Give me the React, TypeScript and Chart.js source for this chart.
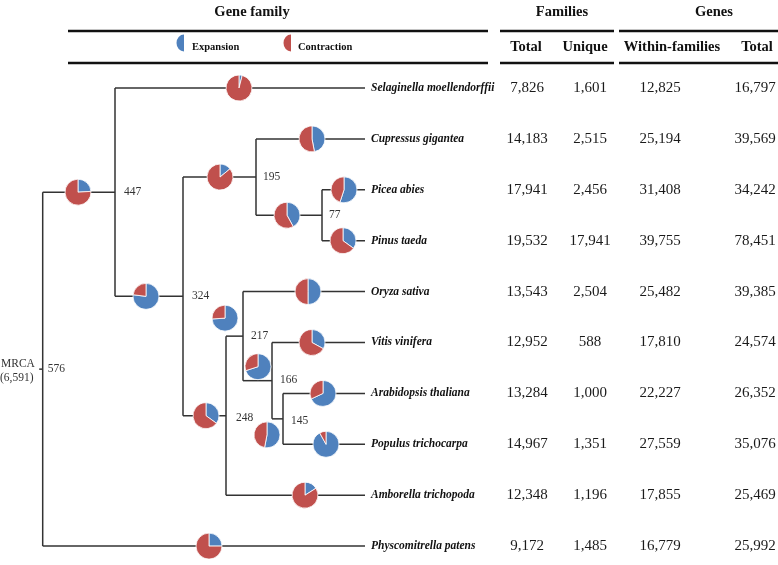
import React, { useEffect, useRef } from "react";
import { Chart, registerables } from "chart.js";

Chart.register(...registerables);

// ---------------- data ----------------
const species = [
  "Selaginella moellendorffii",
  "Cupressus gigantea",
  "Picea abies",
  "Pinus taeda",
  "Oryza sativa",
  "Vitis vinifera",
  "Arabidopsis thaliana",
  "Populus trichocarpa",
  "Amborella trichopoda",
  "Physcomitrella patens",
];
const familiesTotal = [7826, 14183, 17941, 19532, 13543, 12952, 13284, 14967, 12348, 9172];
const familiesUnique = [1601, 2515, 2456, 17941, 2504, 588, 1000, 1351, 1196, 1485];
const genesWithinFamilies = [12825, 25194, 31408, 39755, 25482, 17810, 22227, 27559, 17855, 16779];
const genesTotal = [16797, 39569, 34242, 78451, 39385, 24574, 26352, 35076, 25469, 25992];

// share of expansion (blue) in each leaf pie, rest = contraction (red)
const leafExpansionShare = [0.04, 0.47, 0.55, 0.35, 0.5, 0.33, 0.68, 0.92, 0.16, 0.25];
// internal node labels (families at node) and their expansion shares
const nodeLabels = ["576", "447", "324", "195", "77", "248", "217", "166", "145"];
const nodeExpansionShare = [null, 0.24, 0.77, 0.14, 0.42, 0.35, 0.74, 0.7, 0.53];

const headerTitles = ["Gene family", "Families", "Genes"];
const columnTitles = ["Total", "Unique", "Within-families", "Total"];
const legendLabels = ["Expansion", "Contraction"];
const rootLabel = ["MRCA", "(6,591)"];

// ---------------- layout / styles ----------------
const BLUE = "#4f81bd";
const RED = "#c0504d";
const LINE = "#333333";
const SERIF = '"Liberation Serif", "Times New Roman", serif';
const LEAF_X = 365;
const ROW0_PX = 88;
const ROW_PX = 50.9;
const H = 565;
const W = 778;

type Node = {
  node?: number; // index into nodeLabels
  leaf?: number; // index into species
  x?: number;
  pieX?: number;
  pieDy?: number;
  children?: Node[];
};

const tree: Node = {
  node: 0, x: 42.7, children: [
    {
      node: 1, x: 115, pieX: 78, children: [
        { leaf: 0, pieX: 239 },
        {
          node: 2, x: 183, pieX: 146, children: [
            {
              node: 3, x: 256, pieX: 220, children: [
                { leaf: 1, pieX: 312 },
                { node: 4, x: 322, pieX: 287, children: [{ leaf: 2, pieX: 344 }, { leaf: 3, pieX: 343 }] },
              ],
            },
            {
              node: 5, x: 226, pieX: 206, children: [
                {
                  node: 6, x: 243, pieX: 225, pieDy: -18, children: [
                    { leaf: 4, pieX: 308 },
                    {
                      node: 7, x: 272, pieX: 258, pieDy: -14, children: [
                        { leaf: 5, pieX: 312 },
                        { node: 8, x: 283, pieX: 267, pieDy: 16, children: [{ leaf: 6, pieX: 323 }, { leaf: 7, pieX: 326 }] },
                      ],
                    },
                  ],
                },
                { leaf: 8, pieX: 305 },
              ],
            },
          ],
        },
      ],
    },
    { leaf: 9, pieX: 209 },
  ],
};

type Placed = { n: Node; x: number; y: number };

function layout(n: Node, out: Placed[]): number {
  if (n.leaf !== undefined) {
    out.push({ n, x: LEAF_X, y: n.leaf });
    return n.leaf;
  }
  const ys = (n.children || []).map((c) => layout(c, out));
  const y = (ys[0] + ys[ys.length - 1]) / 2;
  out.push({ n, x: n.x as number, y });
  return y;
}

function buildChart(canvas: HTMLCanvasElement) {
  const placed: Placed[] = [];
  layout(tree, placed);
  const posOf = new Map<Node, Placed>();
  placed.forEach((p) => posOf.set(p.n, p));

  const lineDs: any[] = [];
  const seg = (pts: { x: number; y: number }[]) =>
    lineDs.push({
      type: "line",
      data: pts,
      showLine: true,
      borderColor: LINE,
      borderWidth: 1.5,
      pointRadius: 0,
      fill: false,
      parsing: false,
      clip: false,
    });

  placed.forEach((p) => {
    if (!p.n.children) return;
    const kids = p.n.children.map((c) => posOf.get(c) as Placed);
    seg([{ x: p.x, y: kids[0].y }, { x: p.x, y: kids[kids.length - 1].y }]);
    kids.forEach((k) => seg([{ x: p.x, y: k.y }, { x: k.x, y: k.y }]));
  });
  const root = posOf.get(tree) as Placed;
  seg([{ x: root.x - 3.5, y: root.y }, { x: root.x, y: root.y }]);

  // pies dataset
  const pieData: any[] = [];
  const pieShares: number[] = [];
  placed.forEach((p) => {
    let share: number | null = null;
    if (p.n.leaf !== undefined) share = leafExpansionShare[p.n.leaf];
    else if (p.n.node !== undefined) share = nodeExpansionShare[p.n.node];
    if (share === null || share === undefined || p.n.pieX === undefined) return;
    pieData.push({ x: p.n.pieX, y: p.y + (p.n.pieDy || 0) / ROW_PX });
    pieShares.push(share);
  });

  const pieDs = {
    type: "scatter",
    label: "pies",
    data: pieData,
    pointRadius: 0,
    parsing: false,
    clip: false,
  };

  const yMin = -ROW0_PX / ROW_PX;
  const yMax = yMin + H / ROW_PX;

  const piePlugin = {
    id: "pies",
    afterDatasetsDraw(chart: any) {
      const ctx = chart.ctx;
      const meta = chart.getDatasetMeta(chart.data.datasets.length - 1);
      meta.data.forEach((el: any, i: number) => {
        const cx = el.x, cy = el.y, r = 13;
        const start = -Math.PI / 2;
        const mid = start + Math.PI * 2 * pieShares[i];
        const slices: [number, number, string][] = [
          [start, mid, BLUE],
          [mid, start + Math.PI * 2, RED],
        ];
        ctx.save();
        slices.forEach(([a0, a1, col]) => {
          if (a1 - a0 <= 0) return;
          ctx.beginPath();
          ctx.moveTo(cx, cy);
          ctx.arc(cx, cy, r, a0, a1);
          ctx.closePath();
          ctx.fillStyle = col;
          ctx.fill();
          ctx.strokeStyle = "#ffffff";
          ctx.lineWidth = 0.8;
          ctx.stroke();
        });
        ctx.restore();
      });
    },
  };

  const textPlugin = {
    id: "texts",
    afterDraw(chart: any) {
      const ctx = chart.ctx;
      const xs = chart.scales.x;
      const ys = chart.scales.y;
      ctx.save();
      ctx.textBaseline = "middle";

      // header titles
      ctx.fillStyle = "#111";
      ctx.font = `bold 14.5px ${SERIF}`;
      ctx.textAlign = "center";
      ctx.fillText(headerTitles[0], xs.getPixelForValue(252), 12);
      ctx.fillText(headerTitles[1], xs.getPixelForValue(562), 12);
      ctx.fillText(headerTitles[2], xs.getPixelForValue(714), 12);

      // header rules
      ctx.strokeStyle = "#111";
      ctx.lineWidth = 2.5;
      const spans = [[68, 488], [500, 614], [619, 778]];
      [31, 63].forEach((yy) => {
        spans.forEach(([a, b]) => {
          ctx.beginPath();
          ctx.moveTo(xs.getPixelForValue(a), yy);
          ctx.lineTo(xs.getPixelForValue(b), yy);
          ctx.stroke();
        });
      });

      // column titles
      ctx.font = `bold 14.5px ${SERIF}`;
      const colTitleX = [526, 585, 672, 757];
      columnTitles.forEach((t, i) => ctx.fillText(t, xs.getPixelForValue(colTitleX[i]), 47));

      // legend
      const legCols = [BLUE, RED];
      const legIconX = [184, 291];
      const legTextX = [192, 298];
      legendLabels.forEach((t, i) => {
        ctx.beginPath();
        ctx.moveTo(legIconX[i], 43);
        ctx.ellipse(legIconX[i], 43, 7.5, 8.5, 0, Math.PI / 2, Math.PI * 1.5);
        ctx.closePath();
        ctx.fillStyle = legCols[i];
        ctx.fill();
        ctx.fillStyle = "#111";
        ctx.font = `bold 10.5px ${SERIF}`;
        ctx.textAlign = "left";
        ctx.fillText(t, legTextX[i], 47);
      });

      // species + table values
      const colX = [527, 590, 660, 755];
      const cols = [familiesTotal, familiesUnique, genesWithinFamilies, genesTotal];
      species.forEach((s, i) => {
        const py = ys.getPixelForValue(i);
        ctx.fillStyle = "#111";
        ctx.font = `italic bold 11.5px ${SERIF}`;
        ctx.textAlign = "left";
        ctx.fillText(s, xs.getPixelForValue(LEAF_X + 6), py);
        ctx.font = `15px ${SERIF}`;
        ctx.textAlign = "center";
        ctx.fillStyle = "#1a1a1a";
        cols.forEach((c, j) => {
          ctx.fillText(c[i].toLocaleString("en-US"), xs.getPixelForValue(colX[j]), py);
        });
      });

      // node labels
      ctx.font = `11.5px ${SERIF}`;
      ctx.fillStyle = "#333";
      ctx.textAlign = "left";
      const labelDx = [5, 9, 9, 7, 7, 10, 8, 8, 8];
      const labelDy = [0, 0, 0, 0, 0, 2, 0, -1, 2];
      placed.forEach((p) => {
        if (p.n.node === undefined) return;
        const k = p.n.node;
        ctx.fillText(
          nodeLabels[k],
          xs.getPixelForValue(p.x) + labelDx[k],
          ys.getPixelForValue(p.y) + labelDy[k]
        );
      });

      // root label
      const ry = ys.getPixelForValue(root.y);
      ctx.fillText(rootLabel[0], 1, ry - 5);
      ctx.fillText(rootLabel[1], 0, ry + 9);

      ctx.restore();
    },
  };

  return new Chart(canvas, {
    type: "scatter",
    data: { datasets: [...lineDs, pieDs] as any },
    options: {
      animation: false,
      responsive: false,
      maintainAspectRatio: false,
      events: [],
      layout: { padding: 0 },
      plugins: { legend: { display: false }, tooltip: { enabled: false } },
      scales: {
        x: { type: "linear", min: 0, max: W, display: false },
        y: { type: "linear", min: yMin, max: yMax, reverse: true, display: false },
      },
    },
    plugins: [piePlugin, textPlugin],
  });
}

export default function App() {
  const ref = useRef<HTMLCanvasElement | null>(null);
  useEffect(() => {
    if (!ref.current) return;
    const chart = buildChart(ref.current);
    return () => chart.destroy();
  }, []);
  return (
    <div style={{ position: "fixed", left: 0, top: 0, width: W, height: H, background: "#ffffff" }}>
      <canvas ref={ref} width={W} height={H} style={{ width: W, height: H, display: "block" }} />
    </div>
  );
}
